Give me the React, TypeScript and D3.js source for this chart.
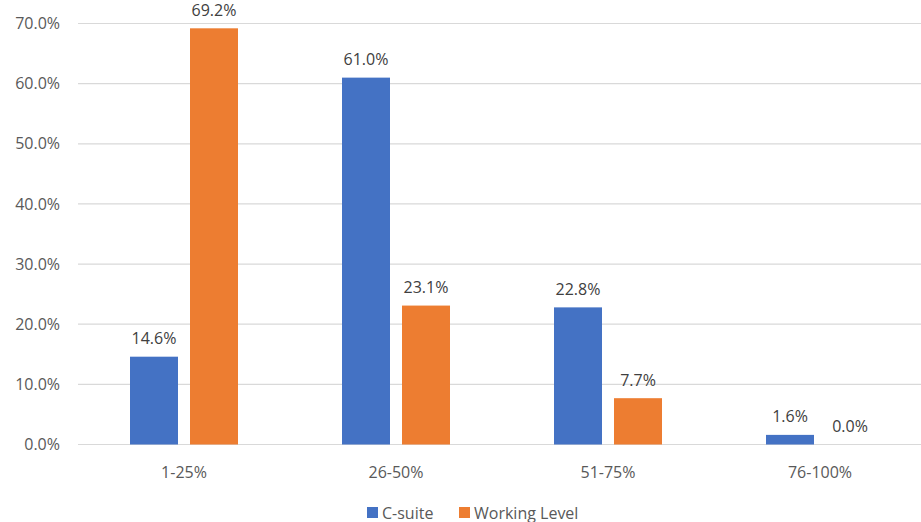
import React from "react";
import * as d3 from "d3";

const categories = ["1-25%", "26-50%", "51-75%", "76-100%"];
const seriesNames = ["C-suite", "Working Level"];
const cSuite = [14.6, 61.0, 22.8, 1.6];
const workingLevel = [69.2, 23.1, 7.7, 0.0];
const yTicks = [0, 10, 20, 30, 40, 50, 60, 70];
const colors = ["#4472C4", "#ED7D31"];

const W = 921;
const H = 522;
const FONT = "'Open Sans', 'Noto Sans', sans-serif";
const FS = 16;

export default function App() {
  const left = 78;
  const bandW = 212;
  const x = d3
    .scaleBand<string>()
    .domain(categories)
    .range([left, left + bandW * categories.length])
    .paddingInner(0)
    .paddingOuter(0);
  const y = d3.scaleLinear().domain([0, 70]).range([444.5, 23.5]);
  const barW = 48;
  const gap = 12;
  const series = [cSuite, workingLevel];
  const fmt = (v: number) => v.toFixed(1) + "%";

  return (
    <svg
      width={W}
      height={H}
      style={{ position: "absolute", left: 0, top: 0, background: "#fff" }}
      fontFamily={FONT}
    >
      {yTicks.map((t) => (
        <g key={t}>
          <line x1={left} x2={W} y1={y(t)} y2={y(t)} stroke="#D9D9D9" strokeWidth={1.2} />
          <text x={60} y={y(t)} dy="0.35em" textAnchor="end" fontSize={FS} fill="#595959">
            {fmt(t)}
          </text>
        </g>
      ))}
      {categories.map((c, i) => {
        const cx = (x(c) as number) + x.bandwidth() / 2;
        return (
          <g key={c}>
            {series.map((s, k) => {
              const bx = k === 0 ? cx - gap / 2 - barW : cx + gap / 2;
              const v = s[i];
              return (
                <g key={k}>
                  {v > 0 && (
                    <rect x={bx} y={y(v)} width={barW} height={y(0) - y(v)} fill={colors[k]} />
                  )}
                  <text
                    x={bx + barW / 2}
                    y={y(v) - 18}
                    dy="0.35em"
                    textAnchor="middle"
                    fontSize={FS}
                    fill="#404040"
                  >
                    {fmt(v)}
                  </text>
                </g>
              );
            })}
            <text x={cx} y={472} dy="0.35em" textAnchor="middle" fontSize={FS} fill="#595959">
              {c}
            </text>
          </g>
        );
      })}
      {seriesNames.map((n, k) => {
        const lx = k === 0 ? 367 : 459;
        return (
          <g key={n}>
            <rect x={lx} y={507} width={11} height={11} fill={colors[k]} />
            <text x={lx + 15} y={513} dy="0.35em" fontSize={FS} fill="#595959">
              {n}
            </text>
          </g>
        );
      })}
    </svg>
  );
}
